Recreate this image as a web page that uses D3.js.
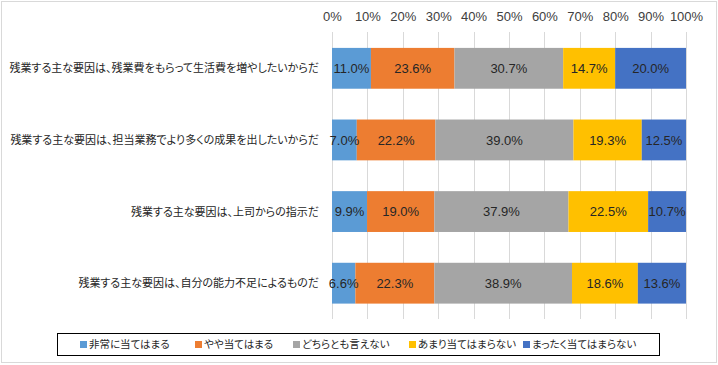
<!DOCTYPE html>
<html><head><meta charset="utf-8">
<script src="https://cdn.jsdelivr.net/npm/d3@7"></script>
<style>
html,body{margin:0;padding:0;background:#fff;}
svg text{font-family:"Noto Sans CJK JP","Noto Sans",sans-serif;font-feature-settings:"palt";}
</style></head>
<body>
<svg id="chart" width="718" height="365"></svg>
<script>
const categories = [
  "残業する主な要因は、残業費をもらって生活費を増やしたいからだ",
  "残業する主な要因は、担当業務でより多くの成果を出したいからだ",
  "残業する主な要因は、上司からの指示だ",
  "残業する主な要因は、自分の能力不足によるものだ"
];
const seriesNames = ["非常に当てはまる","やや当てはまる","どちらとも言えない","あまり当てはまらない","まったく当てはまらない"];
const seriesColors = ["#5B9BD5","#ED7D31","#A5A5A5","#FFC000","#4472C4"];
const s1 = [11.0, 7.0, 9.9, 6.6];
const s2 = [23.6, 22.2, 19.0, 22.3];
const s3 = [30.7, 39.0, 37.9, 38.9];
const s4 = [14.7, 19.3, 22.5, 18.6];
const s5 = [20.0, 12.5, 10.7, 13.6];
const tickValues = [0,10,20,30,40,50,60,70,80,90,100];

const seriesValues = [s1,s2,s3,s4,s5];
const rows = categories.map((c,i)=>{
  const r = {cat:c};
  seriesNames.forEach((s,j)=>r[s]=seriesValues[j][i]);
  return r;
});

const svg = d3.select("#chart");
svg.append("rect").attr("x",1.5).attr("y",1.5).attr("width",715).attr("height",361)
  .attr("fill","#fff").attr("stroke","#d9d9d9").attr("stroke-width",1);

const x = d3.scaleLinear().domain([0,100]).range([332,686]);
const y = d3.scaleBand().domain(categories).range([32.5,319]).paddingInner(0.43).paddingOuter(0.215);

svg.append("g").selectAll("line").data(tickValues).join("line")
  .attr("x1",d=>Math.round(x(d))+0.5).attr("x2",d=>Math.round(x(d))+0.5)
  .attr("y1",32).attr("y2",319)
  .attr("stroke","#d9d9d9").attr("stroke-width",1);

const axis = d3.axisTop(x).tickValues(tickValues).tickFormat(d=>d+"%").tickSize(0).tickPadding(0);
const ag = svg.append("g").attr("transform","translate(0,21)").call(axis);
ag.select(".domain").remove();
ag.selectAll("text").attr("font-size",13).attr("fill","#404040")
  .style("font-family","'Liberation Sans','Noto Sans',sans-serif").attr("dy","0");

const stack = d3.stack().keys(seriesNames)(rows);

const g = svg.append("g");
stack.forEach((layer,j)=>{
  g.append("g").selectAll("rect").data(layer).join("rect")
    .attr("x",d=>x(d[0])).attr("width",d=>x(d[1])-x(d[0]))
    .attr("y",d=>y(d.data.cat)).attr("height",y.bandwidth())
    .attr("fill",seriesColors[j]);
});
stack.forEach((layer,j)=>{
  g.append("g").selectAll("text").data(layer).join("text")
    .attr("x",d=>(x(d[0])+x(d[1]))/2)
    .attr("y",d=>y(d.data.cat)+y.bandwidth()/2)
    .attr("dy","0.36em").attr("text-anchor","middle")
    .attr("font-size",13).attr("fill","#262626")
    .style("font-family","'Liberation Sans','Noto Sans',sans-serif")
    .text(d=>(d[1]-d[0]).toFixed(1)+"%");
});

svg.append("g").selectAll("text").data(categories).join("text")
  .attr("x",319).attr("y",d=>y(d)+y.bandwidth()/2).attr("dy","0.36em")
  .attr("text-anchor","end").attr("font-size",11).attr("fill","#262626")
  .text(d=>d);

const lg = svg.append("g");
lg.append("rect").attr("x",57.5).attr("y",333.5).attr("width",602).attr("height",22)
  .attr("fill","#fff").attr("stroke","#000").attr("stroke-width",1);
const legendX = [80,195,293,409,523];
seriesNames.forEach((s,j)=>{
  lg.append("rect").attr("x",legendX[j]).attr("y",341).attr("width",7).attr("height",7).attr("fill",seriesColors[j]);
  lg.append("text").attr("x",legendX[j]+9).attr("y",344.5).attr("dy","0.36em")
    .attr("font-size",10.5).attr("fill","#262626").text(s);
});
</script>
</body></html>
